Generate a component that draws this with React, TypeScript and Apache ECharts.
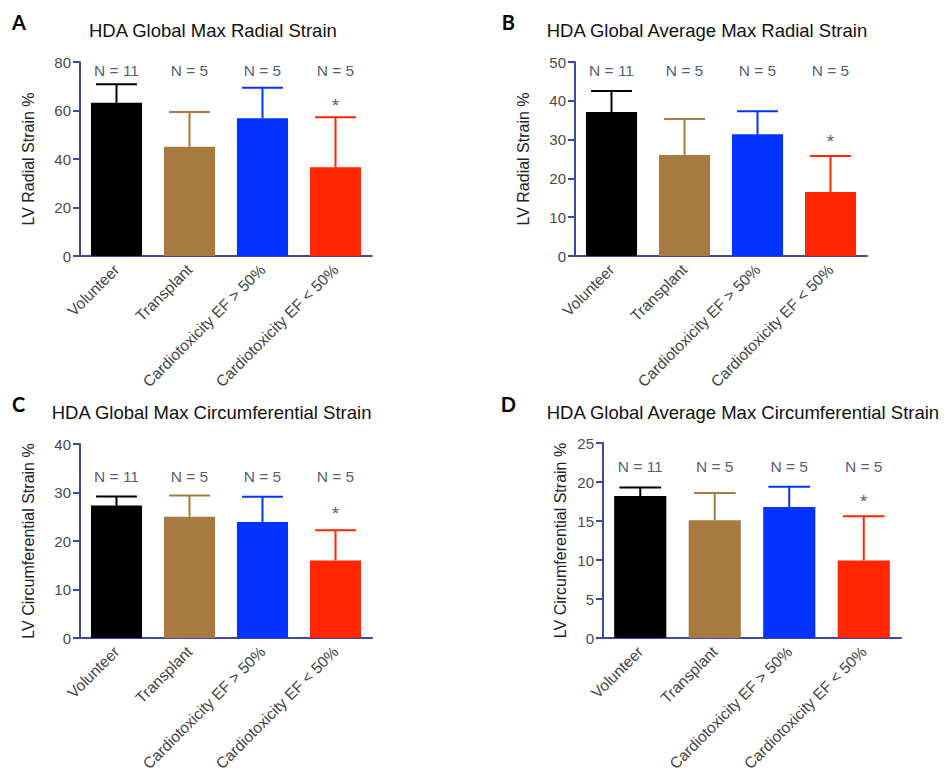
import React, { useEffect, useRef } from "react";
import * as echarts from "echarts";

const categories = ["Volunteer", "Transplant", "Cardiotoxicity EF > 50%", "Cardiotoxicity EF < 50%"];
const nLabels = ["N = 11", "N = 5", "N = 5", "N = 5"];
const barColors = ["#000000", "#a67a41", "#0433ff", "#ff2600"];

const panelLetters = ["A", "B", "C", "D"];
const panelTitles = [
  "HDA Global Max Radial Strain",
  "HDA Global Average Max Radial Strain",
  "HDA Global Max Circumferential Strain",
  "HDA Global Average Max Circumferential Strain",
];
const yAxisNames = ["LV Radial Strain %", "LV Radial Strain %", "LV Circumferential Strain %", "LV Circumferential Strain %"];
const yMax = [80, 50, 40, 25];
const yInterval = [20, 10, 10, 5];

const meansA = [63.2, 45.1, 56.8, 36.6];
const upperA = [70.8, 59.4, 69.4, 57.2];
const meansB = [37.1, 26.0, 31.4, 16.5];
const upperB = [42.5, 35.3, 37.3, 25.8];
const meansC = [27.3, 25.0, 23.9, 16.0];
const upperC = [29.2, 29.4, 29.1, 22.2];
const meansD = [18.2, 15.1, 16.8, 9.95];
const upperD = [19.3, 18.6, 19.4, 15.6];

const nLabelLevel = [76.4, 47.7, 33.3, 22.0];
const starLevel = [62.0, 29.4, 25.6, 17.5];
const starIndex = 3;

const means = [meansA, meansB, meansC, meansD];
const uppers = [upperA, upperB, upperC, upperD];

const grids = [
  { left: 80, top: 62, width: 292, height: 194 },
  { left: 575, top: 62, width: 292, height: 194 },
  { left: 80, top: 444, width: 292, height: 194 },
  { left: 603, top: 443, width: 298, height: 195 },
];
const nameGaps = [44, 44, 44, 35];
const letterPos = [
  [12, 21.5],
  [501.7, 21.5],
  [12, 403.5],
  [500.7, 403.5],
];
const titlePos = [
  [89, 30],
  [546.7, 30],
  [51.7, 412],
  [546.7, 412],
];

const AXIS = "#3f4a9a";
const FONT = "Liberation Sans";

export default function App() {
  const ref = useRef<HTMLDivElement>(null);
  useEffect(() => {
    if (!ref.current) return;
    const chart = echarts.init(ref.current, null, { renderer: "svg" });
    const xAxis: any[] = [];
    const yAxis: any[] = [];
    const series: any[] = [];
    const graphic: any[] = [];
    for (let p = 0; p < 4; p++) {
      xAxis.push({
        type: "category",
        gridIndex: p,
        data: categories,
        axisLine: { lineStyle: { color: AXIS, width: 2 } },
        axisTick: { alignWithLabel: true, length: 6, lineStyle: { color: AXIS, width: 2 } },
        axisLabel: { rotate: 45, fontSize: 15.5, color: "#444", fontFamily: FONT, margin: 11 },
      });
      yAxis.push({
        type: "value",
        gridIndex: p,
        min: 0,
        max: yMax[p],
        interval: yInterval[p],
        name: yAxisNames[p],
        nameLocation: "middle",
        nameGap: nameGaps[p],
        nameTextStyle: { fontSize: 16, color: "#222", fontFamily: FONT },
        axisLine: { show: true, lineStyle: { color: AXIS, width: 2 } },
        axisTick: { show: true, length: 7, lineStyle: { color: AXIS, width: 2 } },
        splitLine: { show: false },
        axisLabel: { fontSize: 15, color: "#4a4a4a", fontFamily: FONT, margin: 9 },
      });
      series.push({
        type: "bar",
        xAxisIndex: p,
        yAxisIndex: p,
        barWidth: "70%",
        data: means[p].map((v, i) => ({ value: v, itemStyle: { color: barColors[i] } })),
      });
      series.push({
        type: "custom",
        xAxisIndex: p,
        yAxisIndex: p,
        z: 3,
        data: means[p].map((v, i) => [i, v, uppers[p][i]]),
        renderItem: (params: any, api: any) => {
          const i = api.value(0);
          const base = api.coord([i, api.value(1)]);
          const top = api.coord([i, api.value(2)]);
          const half = api.size([1, 0])[0] * 0.28;
          const color = barColors[params.dataIndex];
          return {
            type: "group",
            children: [
              { type: "line", shape: { x1: base[0], y1: base[1], x2: top[0], y2: top[1] }, style: { stroke: color, lineWidth: 2 } },
              { type: "line", shape: { x1: top[0] - half, y1: top[1], x2: top[0] + half, y2: top[1] }, style: { stroke: color, lineWidth: 2 } },
            ],
          };
        },
      });
      series.push({
        type: "scatter",
        xAxisIndex: p,
        yAxisIndex: p,
        symbolSize: 0,
        silent: true,
        data: nLabels.map((t, i) => ({ value: [i, nLabelLevel[p]], name: t })),
        label: {
          show: true,
          position: "inside",
          formatter: (d: any) => d.name,
          fontSize: 15.5,
          color: "#2a2f4f",
          fontFamily: FONT,
        },
      });
      series.push({
        type: "scatter",
        xAxisIndex: p,
        yAxisIndex: p,
        symbolSize: 0,
        silent: true,
        data: [{ value: [starIndex, starLevel[p]], name: "*" }],
        label: {
          show: true,
          position: "inside",
          formatter: "*",
          fontSize: 19,
          color: "#2a2f4f",
          fontFamily: FONT,
        },
      });
      graphic.push({
        type: "text",
        x: letterPos[p][0],
        y: letterPos[p][1],
        style: { text: panelLetters[p], fill: "#000", font: `bold 20px Lato`, textAlign: "left", textVerticalAlign: "middle" },
      });
      graphic.push({
        type: "text",
        x: titlePos[p][0],
        y: titlePos[p][1],
        style: { text: panelTitles[p], fill: "#111", font: `18.5px "${FONT}"`, textAlign: "left", textVerticalAlign: "middle" },
      });
    }
    chart.setOption({
      animation: false,
      backgroundColor: "#ffffff",
      grid: grids.map((g) => ({ ...g, containLabel: false, outerBoundsMode: "none" })),
      xAxis,
      yAxis,
      series,
      graphic,
    });
    return () => chart.dispose();
  }, []);
  return <div ref={ref} style={{ position: "fixed", left: 0, top: 0, width: 944, height: 768 }} />;
}
